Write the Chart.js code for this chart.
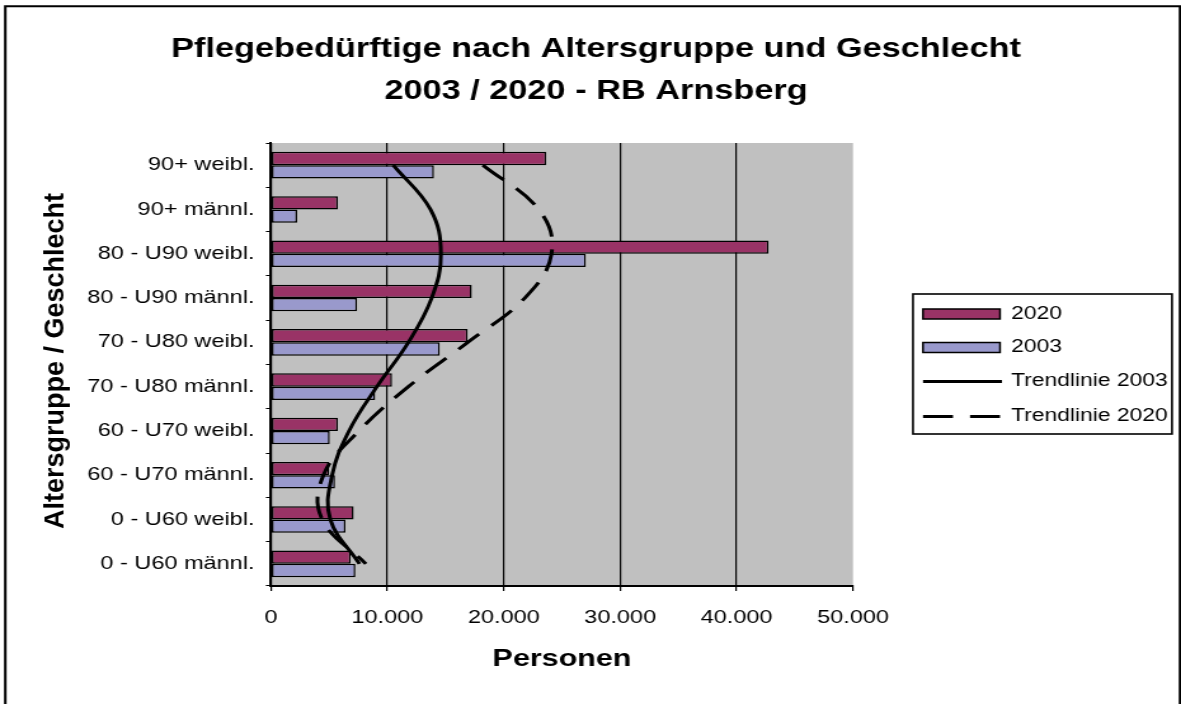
<!DOCTYPE html>
<html>
<head>
<meta charset="utf-8">
<script src="https://cdn.jsdelivr.net/npm/chart.js@4.4.1/dist/chart.umd.min.js"></script>
<style>
  html, body { margin: 0; padding: 0; background: #fff; overflow: hidden; }
  /* the original picture is stretched sideways, so the canvas is too */
  #wrap { position: absolute; left: 0; top: 0; width: 930px; height: 704px; transform: scaleX(1.26989); transform-origin: 0 0; }
</style>
</head>
<body>
<div id="wrap"><canvas id="chart"></canvas></div>
<script>
const categories = [
  "90+ weibl.",
  "90+ männl.",
  "80 - U90 weibl.",
  "80 - U90 männl.",
  "70 - U80 weibl.",
  "70 - U80 männl.",
  "60 - U70 weibl.",
  "60 - U70 männl.",
  "0 - U60 weibl.",
  "0 - U60 männl.",
];
const values2020 = [23650, 5750, 42750, 17250, 16900, 10400, 5750, 5000, 7100, 6850];
const values2003 = [14000, 2250, 27050, 7400, 14500, 8950, 5050, 5500, 6400, 7250];
const trend2003 = [10500, 13700, 14600, 13800, 11800, 9100, 6700, 5250, 5100, 7600];
const trend2020 = [18200, 23000, 24100, 21800, 16900, 11800, 7550, 4500, 4400, 8150];
const xTicks = [0, 10000, 20000, 30000, 40000, 50000];
const titleLines = ["Pflegebedürftige nach Altersgruppe und Geschlecht", "2003 / 2020 - RB Arnsberg"];

const STRETCH = 1181 / 930;
const sx = (px) => px / STRETCH; // picture x -> canvas x
const FONT = "'Liberation Sans', Arial, sans-serif";

Chart.defaults.color = "#000";
Chart.defaults.font.family = FONT;

function formatDE(v) {
  return String(v).replace(/\B(?=(\d{3})+(?!\d))/g, ".");
}

const plotBackground = {
  id: "plotBackground",
  beforeDraw(chart) {
    const { ctx, chartArea: a } = chart;
    ctx.save();
    ctx.fillStyle = "#C0C0C0";
    ctx.fillRect(a.left, a.top, a.right - a.left, a.bottom - a.top);
    ctx.restore();
  },
};

const frameAndTexts = {
  id: "frameAndTexts",
  afterDraw(chart) {
    const ctx = chart.ctx;
    ctx.save();
    // outer frame (open at the bottom)
    ctx.strokeStyle = "#000";
    ctx.lineWidth = 2;
    ctx.beginPath();
    ctx.moveTo(sx(5.3), 710);
    ctx.lineTo(sx(5.3), 6.2);
    ctx.lineTo(sx(1180), 6.2);
    ctx.lineTo(sx(1180), 710);
    ctx.stroke();

    // chart title, centred on the whole picture
    ctx.fillStyle = "#000";
    ctx.font = "bold 27px " + FONT;
    ctx.textAlign = "center";
    ctx.textBaseline = "middle";
    ctx.fillText(titleLines[0], sx(596), 50);
    ctx.fillText(titleLines[1], sx(596), 91.5);

    // y axis title, not stretched in the picture
    ctx.font = "bold 27px " + FONT;
    ctx.textBaseline = "alphabetic";
    ctx.translate(sx(63.5), 361);
    ctx.scale(1 / STRETCH, 1);
    ctx.rotate(-Math.PI / 2);
    ctx.fillText("Altersgruppe / Geschlecht", 0, 0);
    ctx.restore();

    // legend
    ctx.save();
    ctx.strokeStyle = "#000";
    ctx.lineWidth = 1.6;
    ctx.strokeRect(sx(913), 294, sx(1172) - sx(913), 140);
    const ds = chart.data.datasets;
    const rows = [
      { ds: ds[0], y: 314, kind: "box" },
      { ds: ds[1], y: 347.5, kind: "box" },
      { ds: ds[2], y: 381.5, kind: "line" },
      { ds: ds[3], y: 416.5, kind: "line" },
    ];
    const x0 = sx(923), x1 = sx(1000);
    rows.forEach((r) => {
      if (r.kind === "box") {
        ctx.fillStyle = r.ds.backgroundColor;
        ctx.fillRect(x0, r.y - 5, x1 - x0, 10);
        ctx.lineWidth = 1.5;
        ctx.setLineDash([]);
        ctx.strokeRect(x0, r.y - 5, x1 - x0, 10);
      } else {
        ctx.lineWidth = 3;
        ctx.setLineDash(r.ds.borderDash ? [sx(30), sx(17)] : []);
        ctx.beginPath();
        ctx.moveTo(x0, r.y);
        ctx.lineTo(x1 + sx(2), r.y);
        ctx.stroke();
      }
      ctx.setLineDash([]);
      ctx.fillStyle = "#000";
      ctx.font = "18px " + FONT;
      ctx.textAlign = "left";
      ctx.textBaseline = "middle";
      ctx.fillText(r.ds.label, sx(1011), r.y);
    });
    ctx.restore();
  },
};

const ctx = document.getElementById("chart");
new Chart(ctx, {
  type: "bar",
  data: {
    labels: categories,
    datasets: [
      {
        label: "2020",
        data: values2020,
        backgroundColor: "#993366",
        borderColor: "#000",
        borderWidth: 1.5,
        borderSkipped: false,
        order: 2,
      },
      {
        label: "2003",
        data: values2003,
        backgroundColor: "#9999CC",
        borderColor: "#000",
        borderWidth: 1.5,
        borderSkipped: false,
        order: 2,
      },
      {
        type: "line",
        label: "Trendlinie 2003",
        data: trend2003,
        borderColor: "#000",
        borderWidth: 3,
        pointRadius: 0,
        tension: 0.4,
        fill: false,
        order: 1,
      },
      {
        type: "line",
        label: "Trendlinie 2020",
        data: trend2020,
        borderColor: "#000",
        borderWidth: 3,
        borderDash: [22, 13],
        pointRadius: 0,
        tension: 0.4,
        fill: false,
        order: 1,
      },
    ],
  },
  options: {
    indexAxis: "y",
    responsive: true,
    maintainAspectRatio: false,
    animation: false,
    layout: { padding: { left: 0, right: 930 - sx(853), top: 143, bottom: 0 } },
    datasets: {
      bar: { categoryPercentage: 0.6, barPercentage: 1.0 },
    },
    scales: {
      x: {
        min: 0,
        max: 50000,
        afterBuildTicks(scale) {
          scale.ticks = xTicks.map((v) => ({ value: v }));
        },
        afterFit(scale) {
          scale.height = 118;
        },
        ticks: {
          font: { size: 18.5 },
          padding: 16,
          callback: (v) => formatDE(v),
        },
        grid: {
          color: (c) => (c.tick && c.tick.value === 50000 ? "rgba(0,0,0,0)" : "#000"),
          lineWidth: 1.2,
          tickColor: "#000",
          tickLength: 5,
        },
        border: { display: true, color: "#000", width: 2 },
        title: {
          display: true,
          text: "Personen",
          font: { size: 24, weight: "bold" },
          padding: { top: 0, bottom: 30 },
        },
      },
      y: {
        afterFit(scale) {
          scale.width = sx(271);
        },
        ticks: {
          font: { size: 18.5 },
          padding: 9,
        },
        grid: {
          drawOnChartArea: false,
          drawTicks: true,
          tickLength: 4,
          color: "#000",
          tickColor: "#000",
        },
        border: { display: true, color: "#000", width: 2 },
      },
    },
    plugins: {
      legend: { display: false },
      tooltip: { enabled: false },
      title: { display: false },
    },
  },
  plugins: [plotBackground, frameAndTexts],
});
</script>
</body>
</html>
